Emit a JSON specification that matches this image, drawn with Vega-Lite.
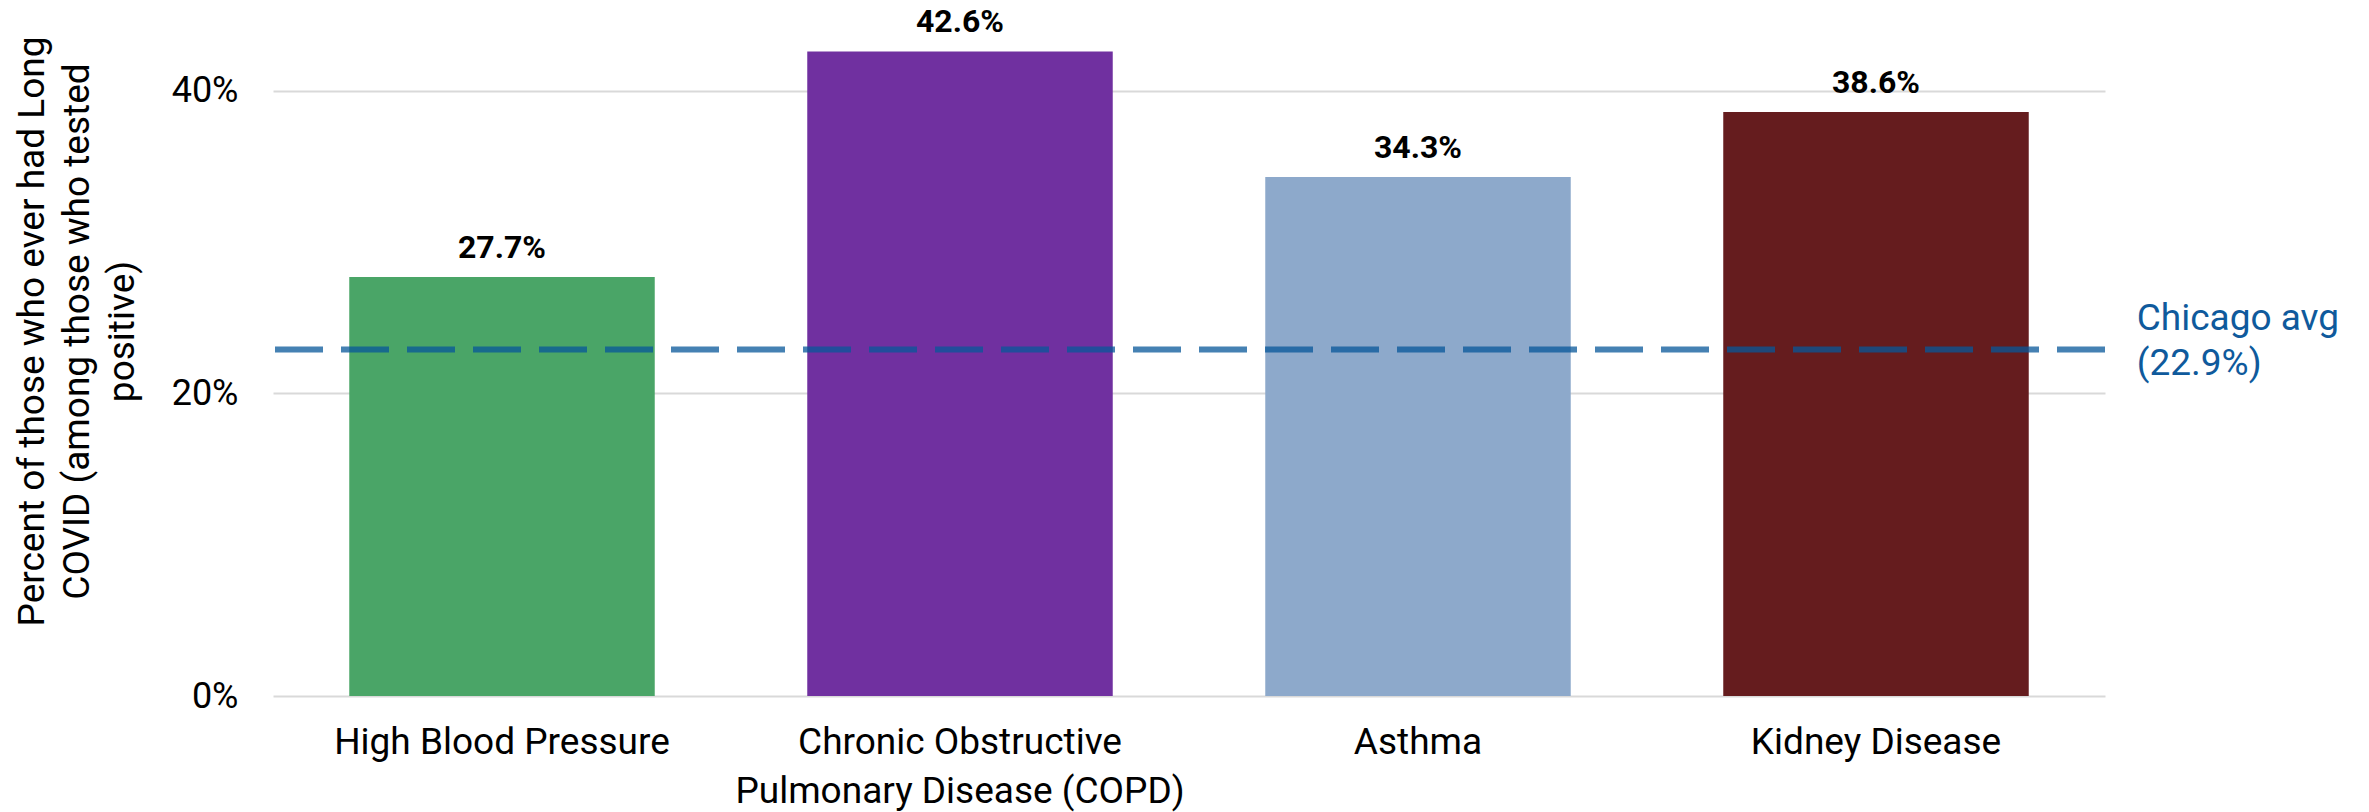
{
  "$schema": "https://vega.github.io/schema/vega-lite/v6.json",
  "width": 1832,
  "height": 696,
  "autosize": {"type": "none"},
  "padding": {"left": 273, "top": 0, "right": 264, "bottom": 116},
  "background": "white",
  "config": {
    "font": "Roboto",
    "view": {"stroke": null}
  },
  "datasets": {
    "conditions": [
      {"condition": "High Blood Pressure", "pct": 0.277},
      {"condition": "Chronic Obstructive Pulmonary Disease (COPD)", "pct": 0.426},
      {"condition": "Asthma", "pct": 0.343},
      {"condition": "Kidney Disease", "pct": 0.386}
    ],
    "average": [
      {"condition": "Kidney Disease", "pct": 0.229, "label": "Chicago avg\n(22.9%)"}
    ]
  },
  "layer": [
    {
      "data": {"name": "conditions"},
      "mark": {"type": "bar"},
      "encoding": {
        "x": {
          "field": "condition",
          "type": "nominal",
          "sort": null,
          "scale": {"paddingInner": 0.333, "paddingOuter": 0.1665},
          "axis": {
            "title": null,
            "labelAngle": 0,
            "labelFont": "Roboto",
            "labelFontSize": 37,
            "labelColor": "#000000",
            "labelPadding": 28,
            "labelLineHeight": 49,
            "labelLimit": 0,
            "ticks": false,
            "domain": false,
            "labelExpr": "datum.value == 'Chronic Obstructive Pulmonary Disease (COPD)' ? ['Chronic Obstructive', 'Pulmonary Disease (COPD)'] : datum.value"
          }
        },
        "y": {
          "field": "pct",
          "type": "quantitative",
          "scale": {"domain": [0, 0.46], "nice": false},
          "axis": {
            "values": [0, 0.2, 0.4],
            "format": ".0%",
            "labelFont": "Roboto",
            "labelFontSize": 36,
            "labelColor": "#000000",
            "labelPadding": 35,
            "ticks": false,
            "domain": false,
            "grid": true,
            "gridColor": "#d9d9d9",
            "gridWidth": 2,
            "title": ["Percent of those who ever had Long", "COVID (among those who tested", "positive)"],
            "titleFont": "Roboto",
            "titleFontSize": 37,
            "titleFontWeight": "normal",
            "titleColor": "#000000",
            "titleLineHeight": 45,
            "titleAngle": -90,
            "titleAlign": "center",
            "titleBaseline": "alphabetic",
            "titleX": -230,
            "titleY": 331
          }
        },
        "color": {
          "field": "condition",
          "type": "nominal",
          "scale": {
            "domain": ["High Blood Pressure", "Chronic Obstructive Pulmonary Disease (COPD)", "Asthma", "Kidney Disease"],
            "range": ["#4aa567", "#7030a0", "#8da9cb", "#651c1e"]
          },
          "legend": null
        }
      }
    },
    {
      "data": {"name": "conditions"},
      "mark": {"type": "text", "font": "Roboto", "fontSize": 32, "fontWeight": "bold", "color": "#000000", "baseline": "alphabetic", "dy": -19},
      "encoding": {
        "x": {"field": "condition", "type": "nominal", "sort": null},
        "y": {"field": "pct", "type": "quantitative"},
        "text": {"field": "pct", "type": "quantitative", "format": ".1%"}
      }
    },
    {
      "data": {"name": "average"},
      "mark": {"type": "rule", "color": "#07579a", "opacity": 0.75, "strokeWidth": 6, "strokeDash": [48, 18]},
      "encoding": {
        "y": {"field": "pct", "type": "quantitative"}
      }
    },
    {
      "data": {"name": "average"},
      "mark": {"type": "text", "font": "Roboto", "fontSize": 37, "color": "#0f5a9c", "align": "left", "baseline": "middle", "lineBreak": "\n", "lineHeight": 45, "dx": 108, "dy": -31},
      "encoding": {
        "x": {"field": "condition", "type": "nominal", "sort": null, "bandPosition": 1},
        "y": {"field": "pct", "type": "quantitative"},
        "text": {"field": "label", "type": "nominal"}
      }
    }
  ]
}
